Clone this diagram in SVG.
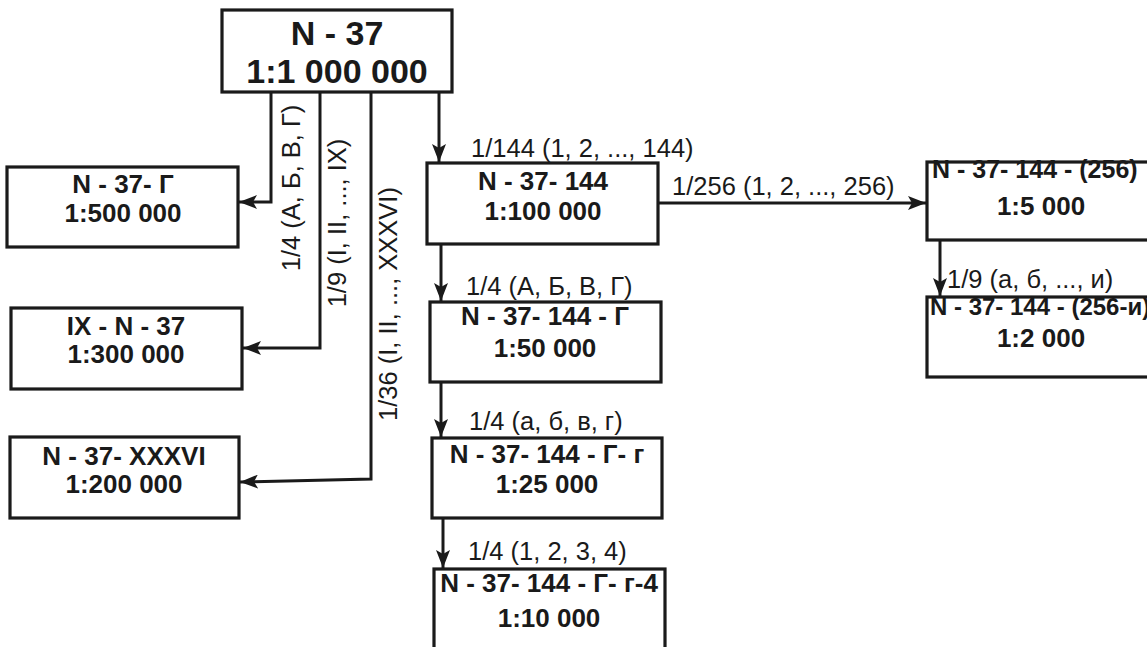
<svg xmlns="http://www.w3.org/2000/svg" width="1147" height="647" viewBox="0 0 1147 647">
<defs>
<style>
.box{fill:#fff;stroke:#1a1a1a;stroke-width:3.2}
.bt{font-family:"Liberation Sans",Arial,sans-serif;font-weight:bold;font-size:26px;fill:#1a1a1a;text-anchor:middle}
.big{font-size:34px}
.lbl{font-family:"Liberation Sans",Arial,sans-serif;font-size:25.5px;fill:#1a1a1a}
.mid{text-anchor:middle}
.con{fill:none;stroke:#1a1a1a;stroke-width:3;marker-end:url(#ah)}
</style>
<marker id="ah" markerUnits="userSpaceOnUse" markerWidth="18" markerHeight="14" refX="18" refY="7" orient="auto">
<path d="M0,0 L18,7 L0,14 L4,7 z" fill="#1a1a1a"/>
</marker>
</defs>
<rect width="1147" height="647" fill="#fff"/>
<g id="connectors">
<path class="con" d="M271,92 V202 H239"/>
<path class="con" d="M320,92 V348 H243"/>
<path class="con" d="M371,92 V479 L240,482"/>
<path class="con" d="M439,92 V162"/>
<path class="con" d="M441,244 V301"/>
<path class="con" d="M441,382 V437"/>
<path class="con" d="M443,518 V568"/>
<path class="con" d="M658,203 H926"/>
<path class="con" d="M940,240 V296"/>
</g>
<g id="labels">
<text class="lbl mid" transform="translate(300,188) rotate(-90)">1/4 (А, Б, В, Г)</text>
<text class="lbl mid" transform="translate(346,223) rotate(-90)">1/9 (I, II, ..., IX)</text>
<text class="lbl mid" transform="translate(397,304) rotate(-90)">1/36 (I, II, ..., XXXVI)</text>
<text class="lbl" x="471" y="157">1/144 (1, 2, ..., 144)</text>
<text class="lbl" x="466" y="295">1/4 (А, Б, В, Г)</text>
<text class="lbl" x="469" y="430">1/4 (а, б, в, г)</text>
<text class="lbl" x="468" y="560">1/4 (1, 2, 3, 4)</text>
<text class="lbl" x="672" y="195">1/256 (1, 2, ..., 256)</text>
<text class="lbl" x="947" y="288">1/9 (а, б, ..., и)</text>
</g>
<g id="n-37">
<rect class="box" x="222" y="10" width="230" height="82"/>
<text class="bt big" x="337" y="45">N - 37</text>
<text class="bt big" x="337" y="83">1:1 000 000</text>
</g>
<g id="n-37-g">
<rect class="box" x="7" y="167" width="231" height="80"/>
<text class="bt" x="123" y="193">N - 37- Г</text>
<text class="bt" x="123" y="222">1:500 000</text>
</g>
<g id="ix-n-37">
<rect class="box" x="11" y="308" width="231" height="81"/>
<text class="bt" x="126" y="335">IX - N - 37</text>
<text class="bt" x="126" y="363">1:300 000</text>
</g>
<g id="n-37-xxxvi">
<rect class="box" x="10" y="437" width="229" height="81"/>
<text class="bt" x="124" y="465">N - 37- XXXVI</text>
<text class="bt" x="124" y="493">1:200 000</text>
</g>
<g id="n-37-144">
<rect class="box" x="427" y="163" width="231" height="81"/>
<text class="bt" x="543" y="190">N - 37- 144</text>
<text class="bt" x="543" y="220">1:100 000</text>
</g>
<g id="n-37-144-g">
<rect class="box" x="430" y="302" width="231" height="80"/>
<text class="bt" x="545" y="325">N - 37- 144 - Г</text>
<text class="bt" x="545" y="357">1:50 000</text>
</g>
<g id="n-37-144-g-g">
<rect class="box" x="432" y="438" width="230" height="80"/>
<text class="bt" x="547" y="463">N - 37- 144 - Г- г</text>
<text class="bt" x="547" y="493">1:25 000</text>
</g>
<g id="n-37-144-g-g-4">
<rect class="box" x="434" y="569" width="231" height="90"/>
<text class="bt" x="549" y="592">N - 37- 144 - Г- г-4</text>
<text class="bt" x="549" y="627">1:10 000</text>
</g>
<g id="n-37-144-256">
<rect class="box" x="927" y="162" width="240" height="78"/>
<text class="bt" x="932" y="178" style="text-anchor:start;font-size:25px">N - 37- 144 - (256)</text>
<text class="bt" x="1041" y="215">1:5 000</text>
</g>
<g id="n-37-144-256-i">
<rect class="box" x="927" y="297" width="240" height="80"/>
<text class="bt" x="930" y="315" style="text-anchor:start;font-size:24px">N - 37- 144 - (256-и)</text>
<text class="bt" x="1041" y="347">1:2 000</text>
</g>
</svg>
